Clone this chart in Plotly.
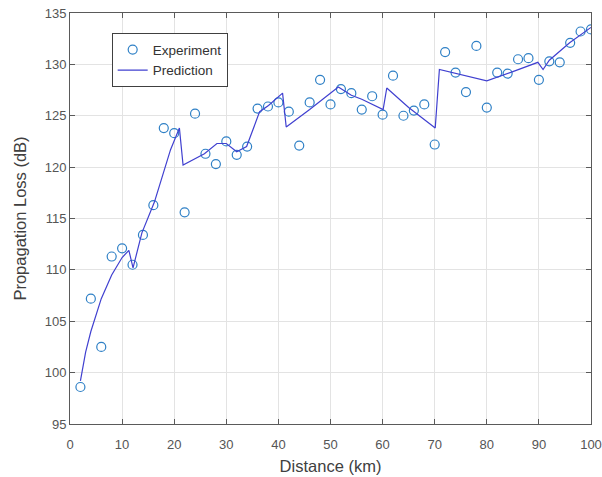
import plotly.graph_objects as go

# Measured propagation loss, every 2 km
exp_distance = [2, 4, 6, 8, 10, 12, 14, 16, 18, 20,
                22, 24, 26, 28, 30, 32, 34, 36, 38, 40,
                42, 44, 46, 48, 50, 52, 54, 56, 58, 60,
                62, 64, 66, 68, 70, 72, 74, 76, 78, 80,
                82, 84, 86, 88, 90, 92, 94, 96, 98, 100]
exp_loss = [98.6, 107.2, 102.5, 111.3, 112.1, 110.5, 113.4, 116.3, 123.8, 123.3,
            115.6, 125.2, 121.3, 120.3, 122.5, 121.2, 122.0, 125.7, 125.9, 126.3,
            125.4, 122.1, 126.3, 128.5, 126.1, 127.6, 127.2, 125.6, 126.9, 125.1,
            128.9, 125.0, 125.5, 126.1, 122.2, 131.2, 129.2, 127.3, 131.8, 125.8,
            129.2, 129.1, 130.5, 130.6, 128.5, 130.3, 130.2, 132.1, 133.2, 133.4]

# Model prediction
pred_distance = [2, 3, 4, 6, 8, 10, 11.3, 12.1, 13.8, 16.2, 19.3, 21.0, 21.7,
                 25.8, 28.2, 30.0, 32.0, 33.9, 36.4, 38.1, 40.8, 41.5,
                 46.0, 51.5, 54.0, 56.0, 60.1, 60.8, 65.0, 70.1, 70.9,
                 74.2, 80.0, 85.0, 89.8, 90.8, 92.0, 95.9, 100.0]
pred_loss = [99.2, 102.0, 104.0, 107.2, 109.5, 111.2, 111.9, 110.2, 113.6, 116.6, 121.7, 123.8, 120.2,
             121.3, 122.3, 122.3, 121.5, 122.0, 125.4, 126.0, 127.2, 123.9,
             125.6, 127.8, 127.0, 126.6, 125.6, 127.7, 125.8, 123.8, 129.5,
             129.1, 128.4, 129.3, 130.2, 129.5, 130.4, 132.1, 133.6]

x_ticks = [0, 10, 20, 30, 40, 50, 60, 70, 80, 90, 100]
y_ticks = [95, 100, 105, 110, 115, 120, 125, 130, 135]

FONT = "Liberation Sans, Arial, sans-serif"

fig = go.Figure()
fig.add_trace(go.Scatter(
    x=exp_distance, y=exp_loss, mode="markers", name="Experiment",
    marker=dict(symbol="circle-open", size=9, color="#2f80c6",
                line=dict(width=1.2, color="#2f80c6")),
))
fig.add_trace(go.Scatter(
    x=pred_distance, y=pred_loss, mode="lines", name="Prediction",
    line=dict(color="#4040d0", width=1.2),
))

axis_common = dict(
    showline=True, linecolor="#5a5a5a", linewidth=1, mirror="ticks",
    ticks="inside", ticklen=5, tickcolor="#5a5a5a",
    showgrid=True, gridcolor="#e3e3e3", gridwidth=1,
    zeroline=False, automargin=False,
    tickfont=dict(family=FONT, size=13, color="#555555"),
)

fig.update_xaxes(range=[0, 100], tickvals=x_ticks, ticklabelstandoff=8,
                 title=dict(text="Distance (km)", standoff=9,
                            font=dict(family=FONT, size=16.5, color="#404040")),
                 **axis_common)
fig.update_yaxes(range=[95, 135], tickvals=y_ticks,
                 title=dict(text="Propagation Loss (dB)", standoff=13,
                            font=dict(family=FONT, size=16.5, color="#404040")),
                 **axis_common)

fig.update_layout(
    width=602, height=477,
    margin=dict(l=70, r=11, t=13, b=53),
    plot_bgcolor="white", paper_bgcolor="white",
    legend=dict(
        x=0.080, y=0.9506, xanchor="left", yanchor="top",
        bgcolor="white", bordercolor="#404040", borderwidth=1,
        font=dict(family=FONT, size=13.5, color="#333333"),
        tracegroupgap=0, itemwidth=30,
    ),
)

fig.write_html("out.html")
